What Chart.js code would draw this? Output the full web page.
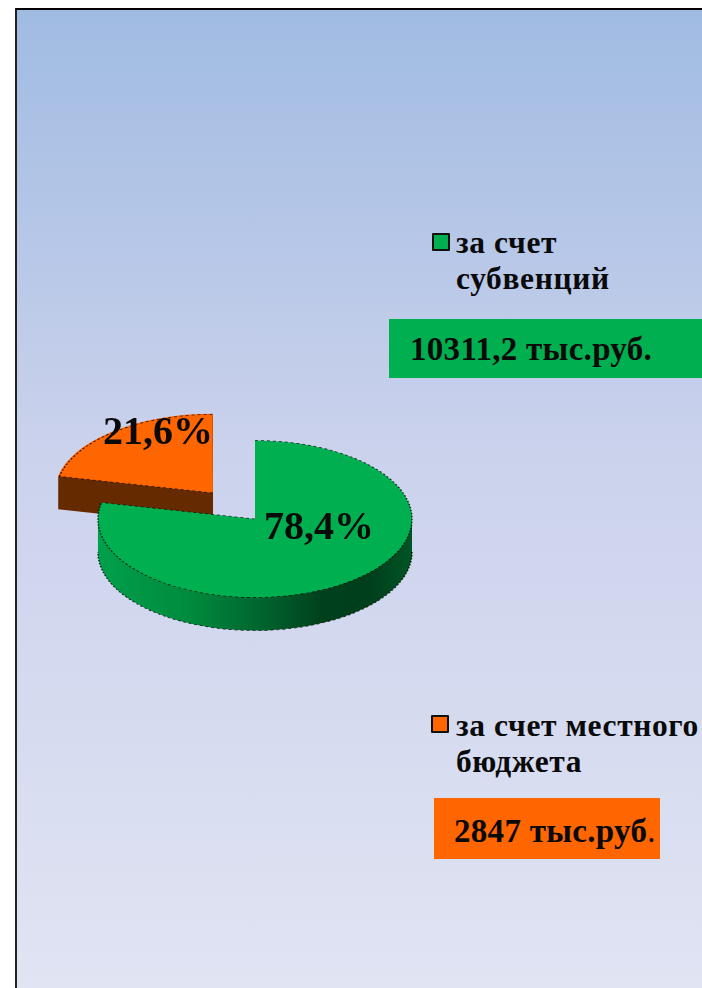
<!DOCTYPE html>
<html lang="ru">
<head>
<meta charset="utf-8">
<title>Расходы</title>
<script src="https://cdn.jsdelivr.net/npm/chart.js@4"></script>
<style>
  html, body { margin: 0; padding: 0; background: #fff; overflow: hidden; }
  #page { position: relative; width: 702px; height: 988px; overflow: hidden; }
  #frame {
    position: absolute; left: 15px; top: 8px; width: 687px; height: 980px;
    box-sizing: border-box; border-left: 2px solid #222; border-top: 2px solid #000;
    background: linear-gradient(180deg, #a0bbe2 0%, #cbd2ec 45%, #e0e4f3 100%);
  }
  canvas { position: absolute; left: 0; top: 0; }
  .txt { position: absolute; font-family: "Liberation Serif", serif; color: #0a0a0a; white-space: nowrap; }
  .legend-text { font-weight: bold; font-size: 31.5px; line-height: 36px; letter-spacing: 0.6px; }
  .swatch { position: absolute; width: 18px; height: 18px; box-sizing: border-box; border: 2px solid #111; border-radius: 1px; }
  .box { position: absolute; }
  .amount { font-weight: bold; font-size: 33px; letter-spacing: 0.3px; line-height: 34px; }
  .amount span { font-weight: normal; }
</style>
</head>
<body>
<div id="page">
  <div id="frame"></div>
  <div class="box" id="box0" style="left:389px;top:319px;width:313px;height:59px"></div>
  <div class="box" id="box1" style="left:434px;top:798px;width:226px;height:61px"></div>
  <div class="swatch" id="swatch0" style="left:432px;top:233px"></div>
  <div class="swatch" id="swatch1" style="left:431px;top:715px"></div>
  <div class="txt legend-text" id="legend0" style="left:456px;top:225px"></div>
  <div class="txt legend-text" id="legend1" style="left:456px;top:708px"></div>
  <div class="txt amount" id="amount0" style="left:410px;top:332px"></div>
  <div class="txt amount" id="amount1" style="left:454px;top:814px"></div>
  <canvas id="pie" width="702" height="988"></canvas>
</div>
<script>
const categories = [['за счет', 'субвенций'], ['за счет местного', 'бюджета']];
const values = [10311.2, 2847];
const amounts = ['10311,2 тыс.руб.', '2847 тыс.руб'];
const percentLabels = ['78,4%', '21,6%'];
const colors = ['#00b050', '#ff6600'];

const squash = 0.5;
const depth = 33;
const centerY = 519;

categories.forEach((lines, i) => {
  document.getElementById('legend' + i).innerHTML = lines.join('<br>');
  document.getElementById('swatch' + i).style.background = colors[i];
  document.getElementById('box' + i).style.background = colors[i];
});
document.getElementById('amount0').textContent = amounts[0];
document.getElementById('amount1').innerHTML = amounts[1] + '<span>.</span>';

// redraw an arc with another fill, arc.draw reads its colour from options
function paintArc(ctx, arc, fill) {
  const saved = arc.options;
  arc.options = { offset: saved.offset, spacing: 0, borderWidth: 0, backgroundColor: fill, borderColor: fill, circular: true, borderAlign: 'center' };
  arc.draw(ctx);
  arc.options = saved;
}

function flatten(ctx) {
  ctx.translate(0, centerY);
  ctx.scale(1, squash);
  ctx.translate(0, -centerY);
}

// dashed rim of one slice plus its cut edge
function outlineArc(ctx, arc, edgeAngle) {
  const half = (arc.startAngle + arc.endAngle) / 2;
  const shift = (arc.options.offset || 0) / 4;
  const x = arc.x + Math.cos(half) * shift;
  const y = arc.y + Math.sin(half) * shift;
  ctx.beginPath();
  ctx.arc(x, y, arc.outerRadius, arc.startAngle, arc.endAngle);
  ctx.moveTo(x, y);
  ctx.lineTo(x + Math.cos(edgeAngle) * arc.outerRadius, y + Math.sin(edgeAngle) * arc.outerRadius);
  ctx.stroke();
}

const pie3d = {
  id: 'pie3d',
  beforeDatasetsDraw(chart) {
    const ctx = chart.ctx;
    const arcs = chart.getDatasetMeta(0).data;
    const side = ctx.createLinearGradient(97, 0, 412, 0);
    side.addColorStop(0, '#00a04c');
    side.addColorStop(0.3, '#008a3e');
    side.addColorStop(0.55, '#005f2c');
    side.addColorStop(0.72, '#00401c');
    side.addColorStop(0.87, '#003f1c');
    side.addColorStop(1, '#005526');
    ctx.save();
    flatten(ctx);
    for (let d = depth; d > 0; d--) {
      ctx.save();
      ctx.translate(0, d / squash);
      paintArc(ctx, arcs[1], '#662b00');
      paintArc(ctx, arcs[0], side);
      ctx.restore();
    }
    // stays flattened for the library's own arcs, restored in afterDatasetsDraw
  },
  afterDatasetsDraw(chart) {
    const ctx = chart.ctx;
    const arcs = chart.getDatasetMeta(0).data;
    ctx.lineWidth = 1.5;
    ctx.setLineDash([3, 3]);
    ctx.strokeStyle = 'rgba(0,0,0,0.8)';
    outlineArc(ctx, arcs[0], arcs[0].endAngle);
    outlineArc(ctx, arcs[1], arcs[1].startAngle);
    ctx.save();
    ctx.translate(0, depth / squash);
    ctx.beginPath();
    ctx.arc(arcs[0].x, arcs[0].y, arcs[0].outerRadius, 0, Math.PI);
    ctx.stroke();
    ctx.restore();
    ctx.setLineDash([]);
    ctx.restore();

    ctx.save();
    ctx.fillStyle = '#0a0a0a';
    ctx.font = 'bold 40px "Liberation Serif", serif';
    ctx.textBaseline = 'alphabetic';
    ctx.textAlign = 'left';
    ctx.fillText(percentLabels[0], 264, 539);
    ctx.fillText(percentLabels[1], 103, 444);
    ctx.restore();
  }
};

new Chart(document.getElementById('pie').getContext('2d'), {
  type: 'pie',
  plugins: [pie3d],
  data: {
    labels: categories.map(lines => lines.join(' ')),
    datasets: [{
      data: values,
      backgroundColor: colors,
      borderWidth: 0,
      offset: [0, 268],
      radius: 157,
      clip: false
    }]
  },
  options: {
    responsive: false,
    animation: false,
    layout: { padding: { left: 0, right: 192, top: 50, bottom: 0 } },
    plugins: { legend: { display: false }, tooltip: { enabled: false } }
  }
});
</script>
</body>
</html>
